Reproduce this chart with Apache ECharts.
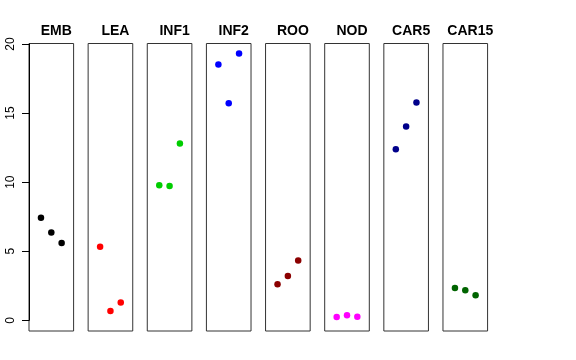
<!DOCTYPE html>
<html><head><meta charset="utf-8">
<script src="https://cdn.jsdelivr.net/npm/echarts@6/dist/echarts.min.js"></script>
<style>html,body{margin:0;padding:0;background:#fff}#c{width:576px;height:360px}</style>
</head><body><div id="c"></div>
<script>
var panels = ['EMB','LEA','INF1','INF2','ROO','NOD','CAR5','CAR15'];
var colors = ['#000000','#FF0000','#00CD00','#0000FF','#8B0000','#FF00FF','#00008B','#006400'];
var xPos = [1, 2, 3];
var EMB = [7.43, 6.35, 5.60];
var LEA = [5.33, 0.67, 1.28];
var INF1 = [9.78, 9.73, 12.80];
var INF2 = [18.52, 15.72, 19.32];
var ROO = [2.61, 3.21, 4.32];
var NOD = [0.24, 0.36, 0.26];
var CAR5 = [12.39, 14.03, 15.77];
var CAR15 = [2.34, 2.17, 1.81];
var values = [EMB, LEA, INF1, INF2, ROO, NOD, CAR5, CAR15];
var yTicks = [0, 5, 10, 15, 20];

var chart = echarts.init(document.getElementById('c'));
var L0 = 29, pitch = 59.14, W = 44.6;
var boxTop = 43.5, boxH = 287.5;
var dataTop = 44.0, dataH = 276.3;
var grid = [], xAxis = [], yAxis = [], series = [], title = [];
panels.forEach(function (name, i) {
  var left = L0 + pitch * i;
  grid.push({left: left, top: boxTop, width: W, height: boxH, show: true, borderColor: '#333', borderWidth: 1, backgroundColor: 'transparent'});
  xAxis.push({type: 'value', gridIndex: 2 * i, min: 0, max: 1, show: false});
  yAxis.push({type: 'value', gridIndex: 2 * i, min: 0, max: 1, show: false});
  grid.push({left: left, top: dataTop, width: W, height: dataH, show: false});
  xAxis.push({type: 'value', gridIndex: 2 * i + 1, min: -0.16, max: 4.16, show: false});
  var ya = {type: 'value', gridIndex: 2 * i + 1, position: 'left', min: yTicks[0], max: yTicks[yTicks.length - 1], interval: 5, splitLine: {show: false}};
  if (i === 0) {
    ya.show = true;
    ya.axisLine = {show: true, onZero: false, lineStyle: {color: '#000', width: 1}};
    ya.axisTick = {show: true, inside: false, length: 7, lineStyle: {color: '#000', width: 1}};
    ya.axisLabel = {show: true, rotate: 90, margin: 12, color: '#000', fontSize: 12, fontFamily: 'Liberation Sans, Arial, sans-serif',
      formatter: function (v) { return yTicks.indexOf(v) >= 0 ? String(v) : ''; }};
  } else {
    ya.show = false;
  }
  yAxis.push(ya);
  series.push({
    type: 'scatter', xAxisIndex: 2 * i + 1, yAxisIndex: 2 * i + 1,
    symbol: 'circle', symbolSize: 6.5,
    itemStyle: {color: colors[i], opacity: 1},
    data: values[i].map(function (v, k) { return [xPos[k], v]; }),
    silent: true
  });
  title.push({text: name, left: left + W / 2, top: 19, textAlign: 'center',
    textStyle: {fontSize: 14, fontWeight: 'bold', color: '#000', fontFamily: 'Liberation Sans, Arial, sans-serif'}});
});
chart.setOption({animation: false, backgroundColor: '#fff', title: title, grid: grid, xAxis: xAxis, yAxis: yAxis, series: series});
</script></body></html>
